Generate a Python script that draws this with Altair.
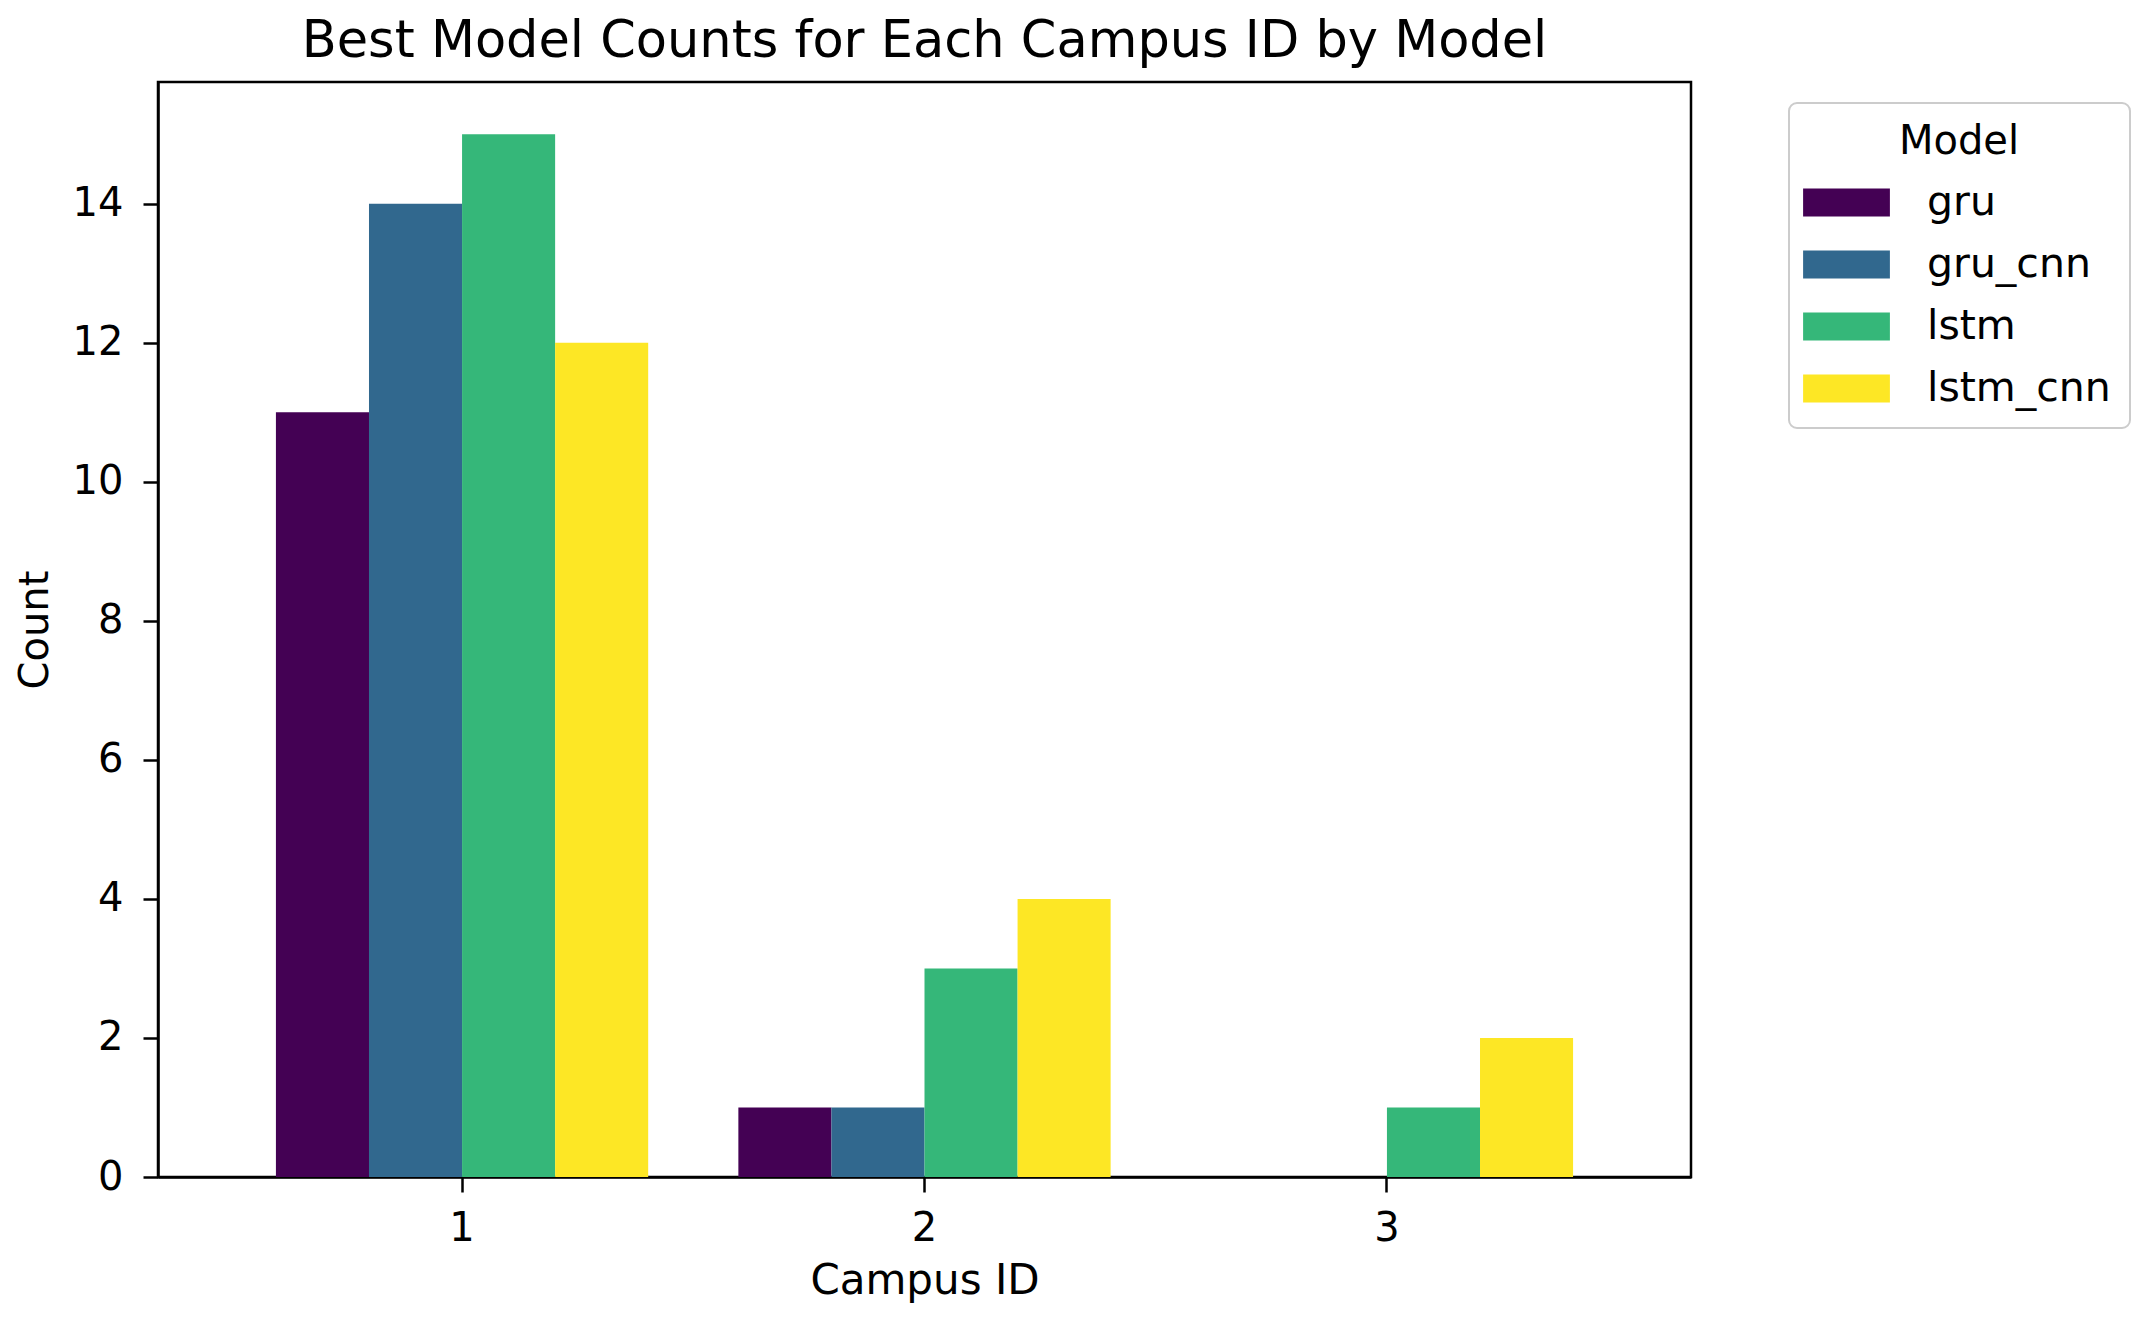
import altair as alt
import pandas as pd

campus_ids = ["1", "2", "3"]
models = ["gru", "gru_cnn", "lstm", "lstm_cnn"]
gru = [11, 1, 0]
gru_cnn = [14, 1, 0]
lstm = [15, 3, 1]
lstm_cnn = [12, 4, 2]
colors = ["#440154", "#31688e", "#35b779", "#fde725"]
y_ticks = [0, 2, 4, 6, 8, 10, 12, 14]

series = {"gru": gru, "gru_cnn": gru_cnn, "lstm": lstm, "lstm_cnn": lstm_cnn}
rows = []
for m in models:
    for c, v in zip(campus_ids, series[m]):
        rows.append({"Campus ID": c, "Model": m, "Count": v})
df = pd.DataFrame(rows)

FONT = "DejaVu Sans"
W, H = 1533, 1095

chart = (
    alt.Chart(df)
    .mark_bar()
    .encode(
        x=alt.X(
            "Campus ID:N",
            sort=campus_ids,
            scale=alt.Scale(paddingInner=0.195, paddingOuter=0.255),
            axis=alt.Axis(
                title="Campus ID",
                labelAngle=0,
                labelFontSize=40,
                labelPadding=16,
                labelBaseline="top",
                tickSize=15,
                tickWidth=2.5,
                tickColor="black",
                domainColor="black",
                domainWidth=2.5,
                titleFontSize=42,
                titleFontWeight="normal",
                titleX=W / 2,
                titleY=116,
                titleBaseline="alphabetic",
                titleAlign="center",
            ),
        ),
        xOffset=alt.XOffset("Model:N", sort=models, scale=alt.Scale(paddingInner=0, paddingOuter=0)),
        y=alt.Y(
            "Count:Q",
            scale=alt.Scale(domain=[0, 15.75], nice=False),
            axis=alt.Axis(
                title="Count",
                values=y_ticks,
                labelFontSize=40,
                labelPadding=20,
                tickSize=15,
                tickWidth=2.5,
                tickColor="black",
                domainColor="black",
                domainWidth=2.5,
                grid=False,
                titleFontSize=40,
                titleFontWeight="normal",
                titleAngle=270,
                titleX=-111,
                titleY=H / 2,
                titleBaseline="alphabetic",
                titleAlign="center",
            ),
        ),
        color=alt.Color(
            "Model:N",
            sort=models,
            scale=alt.Scale(domain=models, range=colors),
            legend=alt.Legend(
                title="Model",
                orient="none",
                legendX=1631,
                legendY=21,
                padding=19,
                strokeColor="#cccccc",
                cornerRadius=8,
                fillColor="white",
                titleFontSize=40,
                titleFontWeight="normal",
                titleAnchor="middle",
                titleColor="black",
                titlePadding=20,
                labelFontSize=41,
                labelColor="black",
                labelLimit=500,
                labelOffset=60,
                symbolOffset=18,
                rowPadding=20,
                symbolType="M-3.1,-1H3.1V1H-3.1Z",
                symbolSize=784,
                symbolStrokeWidth=0,
                symbolOpacity=1,
            ),
        ),
    )
    .properties(
        width=W,
        height=H,
        title=alt.TitleParams(
            "Best Model Counts for Each Campus ID by Model",
            fontSize=51,
            fontWeight="normal",
            font=FONT,
            color="black",
            offset=25,
            dy=51,
            baseline="alphabetic",
        ),
        autosize=alt.AutoSizeParams(type="none"),
        padding={"left": 150, "top": 74, "right": 454, "bottom": 132},
    )
    .configure(font=FONT)
    .configure_axis(labelColor="black", titleColor="black", labelFont=FONT, titleFont=FONT)
    .configure_legend(labelFont=FONT, titleFont=FONT, strokeWidth=2)
    .configure_view(stroke="black", strokeWidth=2.5)
)

chart.save("out.html", embed_options={"renderer": "svg", "actions": False})
